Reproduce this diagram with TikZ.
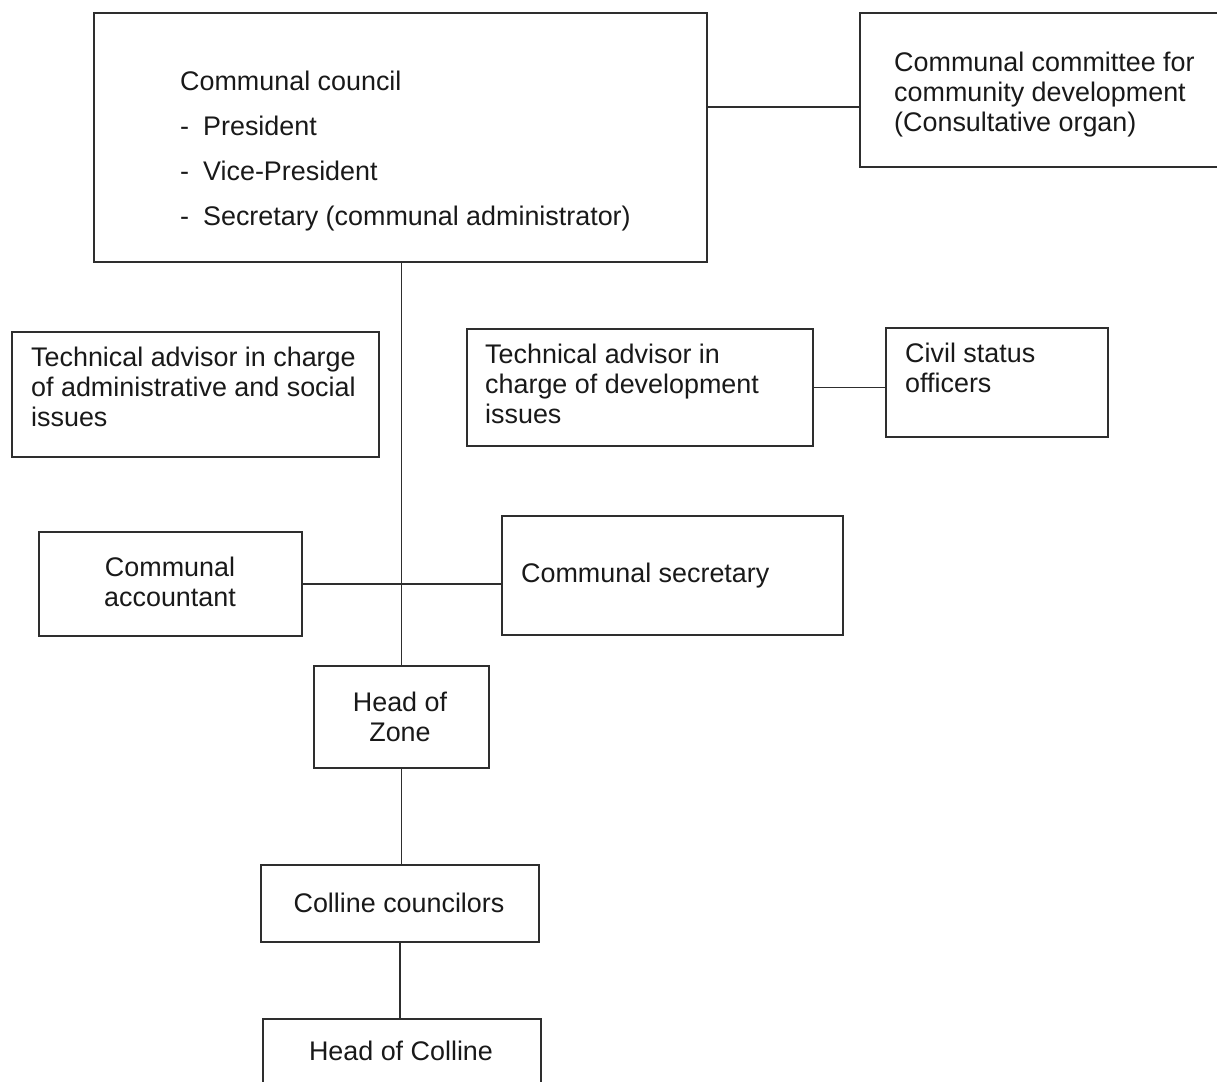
\documentclass[tikz,border=0pt]{standalone}
\usepackage{fontspec}
\setmainfont{Liberation Sans}

\begin{document}
\begin{tikzpicture}[x=1pt, y=-1pt,
    box/.style={draw=black!82, line width=1.8pt, anchor=north west, inner sep=0pt},
    txt/.style={anchor=north west, align=left, inner sep=0pt, text=black!90,
                font=\fontsize{26.9}{30}\selectfont},
    link/.style={draw=black!82, line width=1.8pt}]
    \useasboundingbox (0,0) rectangle (1217,1081);
    \clip (0,0) rectangle (1217,1081);
    %\draw[help lines] (0,0) grid[step=100] (1217,1081);
    % boxes (top left corner, size in px)
    \node[box, minimum width=613, minimum height=249] (council) at (93,12) {};
    \node[box, minimum width=380, minimum height=154] (committee) at (859,12) {}; % cut by the page
    \node[box, minimum width=367, minimum height=125] (techAdmin) at (11,331) {};
    \node[box, minimum width=346, minimum height=117] (techDev) at (466,328) {};
    \node[box, minimum width=222, minimum height=109] (civil) at (885,327) {};
    \node[box, minimum width=263, minimum height=104] (accountant) at (38,531) {};
    \node[box, minimum width=341, minimum height=119] (secretary) at (501,515) {};
    \node[box, minimum width=175, minimum height=102] (zone) at (313,665) {};
    \node[box, minimum width=278, minimum height=77] (collCouncil) at (260,864) {};
    \node[box, minimum width=278, minimum height=90] (collHead) at (262,1018) {}; % cut by the page
    % texts
    \node[txt, font=\fontsize{26.9}{45}\selectfont] (councilTxt) at (180,71)
        {Communal council\\-\hspace{14pt}President\\-\hspace{14pt}Vice-President\\-\hspace{14pt}Secretary (communal administrator)};
    \node[txt] (committeeTxt) at (894,52) {Communal committee for\\community development\\(Consultative organ)};
    \node[txt] (techAdminTxt) at (31,347) {Technical advisor in charge\\of administrative and social\\issues};
    \node[txt] (techDevTxt) at (485,344) {Technical advisor in\\charge of development\\issues};
    \node[txt] (civilTxt) at (905,343) {Civil status\\officers};
    \node[txt, anchor=north, align=center] (accountantTxt) at (170,557) {Communal\\accountant};
    \node[txt] (secretaryTxt) at (521,563) {Communal secretary};
    \node[txt, anchor=north, align=center] (zoneTxt) at (400,692) {Head of\\Zone};
    \node[txt, anchor=north, align=center] (collCouncilTxt) at (399,893) {Colline councilors};
    \node[txt, anchor=north, align=center] (collHeadTxt) at (401,1041) {Head of Colline};
    % connectors
    \draw[link] ([yshift=30.5pt]council.east) -- ([yshift=30.5pt]council.east -| committee.west);
    \draw[link] (zone.north |- council.south) -- (zone.north);
    \draw[link] (techDev.east) -- (techDev.east -| civil.west);
    \draw[link] (accountant.east) -- (accountant.east -| secretary.west);
    \draw[link] (zone.south) -- (zone.south |- collCouncil.north);
    \draw[link] (collCouncil.south) -- (collCouncil.south |- collHead.north);
\end{tikzpicture}
\end{document}
